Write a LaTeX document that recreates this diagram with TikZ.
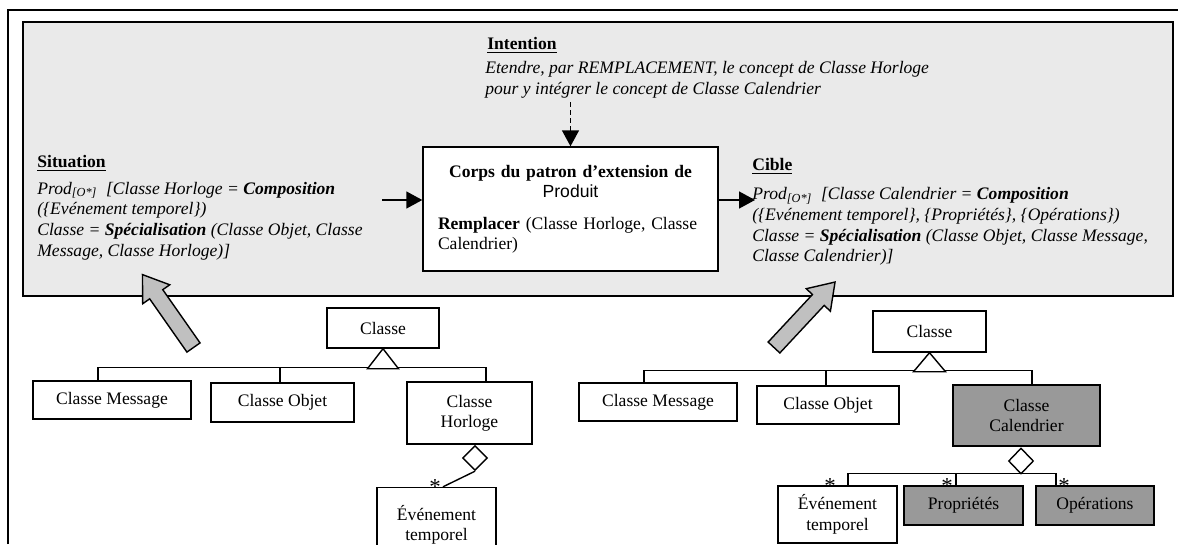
\documentclass[tikz,border=0pt]{standalone}
\usepackage{fontspec}
\setmainfont{Liberation Serif}
\newfontfamily\prodfont{Liberation Sans}
\usetikzlibrary{positioning,arrows.meta,calc,shapes.geometric}
\definecolor{panelgray}{RGB}{234,234,234}
\definecolor{boxgray}{RGB}{153,153,153}
\definecolor{fatgray}{RGB}{192,192,192}

\begin{document}
\begin{tikzpicture}[
  >={Triangle[length=3.2mm,width=3.4mm]},
  cls/.style={draw,line width=0.8pt,fill=white,align=center,inner sep=1pt,font=\fontsize{10}{11.6}\selectfont},
  clsgray/.style={cls,fill=boxgray},
  agg/.style={draw,line width=0.8pt,fill=white,diamond,inner sep=0pt,minimum width=5mm,minimum height=5mm},
  link/.style={line width=0.8pt},
  tri/.style={draw,line width=0.8pt,fill=white},
  ar/.style={->,line width=0.8pt},
  dashar/.style={ar,dash pattern=on 2.8pt off 1.8pt},
  ttl/.style={anchor=west,inner sep=0pt,font=\bfseries\fontsize{10}{11.6}\selectfont},
  spec/.style={anchor=west,inner sep=0pt,align=left,font=\itshape\fontsize{10}{11.8}\selectfont},
  corps/.style={draw,line width=0.8pt,fill=white,inner xsep=0.3cm,text width=5.3cm,minimum width=5.9cm,minimum height=2.48cm,font=\fontsize{10}{11.4}\selectfont},
  fat/.style={draw,line width=0.8pt,fill=fatgray,line join=miter},
  mult/.style={inner sep=0pt,font=\fontsize{13}{13}\selectfont}
]
\useasboundingbox (0,0) rectangle (23.56,-10.88);

% outer frame and grey panel
\draw[line width=0.8pt] (0.16,-10.88) -- (0.16,-0.2) -- (23.56,-0.2);
\draw[line width=0.8pt,fill=panelgray] (0.46,-0.44) rectangle (23.46,-5.92);

% TOP: intention
\node[ttl] (inttitle) at (9.74,-0.9) {\underline{Intention}};
\node[spec] (inttext) at (9.70,-1.6) {Etendre, par REMPLACEMENT, le concept de Classe Horloge\\ pour y intégrer le concept de Classe Calendrier};

% MIDDLE: body of the pattern
\node[corps] (corps) at (11.41,-4.18) {{\centering\textbf{Corps du patron d’extension de}\\ {\prodfont Produit}\par}\vspace{7pt}{\raggedright\textbf{Remplacer} (Classe Horloge, Classe\\ Calendrier)\par}};

\draw[dashar] ([yshift=-2pt]inttext.south -| corps.north) -- (corps.north);

% LEFT: situation
\node[ttl] (sittitle) at (0.74,-3.26) {\underline{Situation}};
\node[spec] (sittext) at (0.74,-4.42) {Prod\textsubscript{[O*]}\ \ [Classe Horloge = \textbf{Composition}\\ (\{Evénement temporel\})\\ Classe = \textbf{Spécialisation} (Classe Objet, Classe\\ Message, Classe Horloge)]};

% RIGHT: target
\node[ttl] (cibtitle) at (15.04,-3.32) {\underline{Cible}};
\node[spec] (cibtext) at (15.04,-4.53) {Prod\textsubscript{[O*]}\ \ [Classe Calendrier = \textbf{Composition}\\ (\{Evénement temporel\}, \{Propriétés\}, \{Opérations\})\\ Classe = \textbf{Spécialisation} (Classe Objet, Classe Message,\\ Classe Calendrier)]};

\coordinate (sitout) at (7.64,-4.0);
\coordinate (cibin) at (15.1,-4.0);
\draw[ar] (sitout) -- (sitout -| corps.west);
\draw[ar] (cibin -| corps.east) -- (cibin);

% fat grey arrows
\begin{scope}[shift={(3.87,-6.95)},rotate=125]
  \draw[fat] (0,-0.16) -- (1.30,-0.16) -- (1.30,-0.33) -- (1.78,0) -- (1.30,0.33) -- (1.30,0.16) -- (0,0.16) -- cycle;
\end{scope}
\begin{scope}[shift={(15.48,-6.95)},rotate=47]
  \draw[fat] (0,-0.16) -- (1.30,-0.16) -- (1.30,-0.33) -- (1.79,0) -- (1.30,0.33) -- (1.30,0.16) -- (0,0.16) -- cycle;
\end{scope}

% LOWER LEFT: source class model
\node[cls,minimum width=2.24cm,minimum height=0.8cm] (cl1) at (7.66,-6.56) {Classe};
\node[cls,minimum width=3.16cm,minimum height=0.76cm] (msg1) at (2.24,-8.0) {Classe Message};
\node[cls,minimum width=2.86cm,minimum height=0.78cm] (obj1) at (5.65,-8.05) {Classe Objet};
\node[cls,minimum width=2.5cm,minimum height=1.24cm] (horl1) at (9.39,-8.26) {Classe\\ Horloge};
\node[agg] (ag1) at (9.5,-9.16) {};
\node[cls,minimum width=2.38cm,minimum height=1.5cm] (evt1) at (8.73,-10.5) {Événement\\ temporel};
\node[mult] (st1) at (8.7,-9.75) {*};

\draw[link] ([xshift=-0.28cm]msg1.north) -- ++(0,0.26) -| ([xshift=0.33cm]horl1.north);
\draw[link] ([xshift=-0.05cm]obj1.north) -- ++(0,0.30);
\draw[tri] (cl1.south) -- ++(-0.31,-0.40) -- ++(0.62,0) -- cycle;
\draw[link] (ag1.south) -- ([xshift=0.13cm]evt1.north);

% LOWER RIGHT: target class model
\node[cls,minimum width=2.26cm,minimum height=0.82cm] (cl2) at (18.59,-6.63) {Classe};
\node[cls,minimum width=3.16cm,minimum height=0.76cm] (msg2) at (13.16,-8.04) {Classe Message};
\node[cls,minimum width=2.84cm,minimum height=0.76cm] (obj2) at (16.56,-8.1) {Classe Objet};
\node[clsgray,minimum width=2.94cm,minimum height=1.22cm] (cal2) at (20.53,-8.31) {Classe\\ Calendrier};
\node[agg,minimum height=5.2mm] (ag2) at (20.42,-9.22) {};
\node[cls,minimum width=2.38cm,minimum height=1.14cm] (evt2) at (16.75,-10.29) {Événement\\ temporel};
\node[clsgray,minimum width=2.38cm,minimum height=0.78cm] (prop2) at (19.27,-10.11) {Propriétés};
\node[clsgray,minimum width=2.36cm,minimum height=0.78cm] (oper2) at (21.9,-10.11) {Opérations};
\node[mult] (st2) at (16.6,-9.73) {*};
\node[mult] (st3) at (18.94,-9.73) {*};
\node[mult] (st4) at (21.28,-9.73) {*};

\draw[link] ([xshift=-0.28cm]msg2.north) -- ++(0,0.24) -| ([xshift=0.11cm]cal2.north);
\draw[link] ([xshift=-0.04cm]obj2.north) -- ++(0,0.30);
\draw[tri] (cl2.south) -- ++(-0.32,-0.38) -- ++(0.64,0) -- cycle;
\draw[link] ([xshift=0.21cm]evt2.north) -- ++(0,0.24) -| ([xshift=-0.78cm]oper2.north);
\draw[link] ([xshift=-0.15cm]prop2.north) -- ++(0,0.24);

\end{tikzpicture}
\end{document}
